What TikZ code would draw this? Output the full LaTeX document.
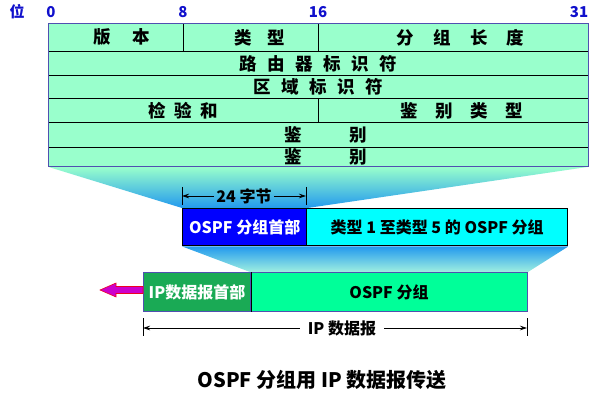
\documentclass[tikz,border=0pt]{standalone}
\usepackage{fontspec}
\setmainfont{Noto Sans CJK SC}
\usetikzlibrary{arrows.meta,backgrounds}
\definecolor{mint}{HTML}{99FFCC}
\definecolor{sky}{HTML}{2299EE}
\definecolor{rim}{HTML}{5050B0}
\definecolor{bitblue}{HTML}{1010CC}
\definecolor{ipgreen}{HTML}{1AAA55}
\definecolor{pktgreen}{HTML}{00FF99}
\definecolor{paleaqua}{HTML}{A0F0E0}
\definecolor{hdrblue}{HTML}{0000FF}
\definecolor{bodycyan}{HTML}{00FFFF}
\definecolor{arrowmag}{HTML}{CC00CC}
\definecolor{arrowred}{HTML}{EE0022}
\begin{document}
\begin{tikzpicture}[x=1pt,y=-1pt,font=\bfseries,
  cell/.style={draw=black,line width=0.8pt,fill=mint,inner sep=0pt,anchor=north west,
    font=\fontsize{17.5}{17.5}\selectfont\bfseries},
  bitlbl/.style={text=bitblue,font=\fontsize{15}{15}\selectfont\bfseries,inner sep=0pt},
  box/.style={line width=1.4pt,inner sep=0pt,anchor=north west,font=\fontsize{16}{16}\selectfont\bfseries},
  dimline/.style={line width=0.7pt,-{Stealth[length=7pt,width=4.5pt]}},
  tick/.style={line width=0.7pt}]
\useasboundingbox (0,0) rectangle (604,403);
\newcommand\mkcell[6]{\node[cell,minimum width=#4pt,minimum height=#5pt] (#1) at (#2,#3) {#6};}
% table
\mkcell{ver}{48}{23}{135}{28}{\hspace{12pt}版\hspace{1.2em}本}
\mkcell{typ}{183}{23}{135}{28}{\hspace{18pt}类\hspace{0.85em}型}
\mkcell{len}{318}{23}{270}{28}{\hspace{14pt}分\hspace{1.1em}组\hspace{1.1em}长\hspace{1.1em}度}
\mkcell{rid}{48}{51}{540}{24}{路\hspace{0.6em}由\hspace{0.6em}器\hspace{0.6em}标\hspace{0.6em}识\hspace{0.6em}符}
\mkcell{aid}{48}{75}{540}{23}{区\hspace{0.6em}域\hspace{0.6em}标\hspace{0.6em}识\hspace{0.6em}符}
\mkcell{chk}{48}{98}{270}{24}{检\hspace{0.5em}验\hspace{0.5em}和}
\mkcell{aut}{318}{98}{270}{24}{\hspace{16pt}鉴\hspace{1em}别\hspace{1em}类\hspace{1em}型}
\mkcell{au1}{48}{122}{540}{25}{\hspace{14pt}鉴\hspace{2.7em}别}
\mkcell{au2}{48}{147}{540}{19}{\hspace{14pt}鉴\hspace{2.7em}别}
\draw[rim,line width=0.9pt] (ver.north west) rectangle (au2.south east);
% bit labels
\node[bitlbl] (wei) at (17,12) {位};
\node[bitlbl] (b0) at (51,12) {0};
\node[bitlbl] (b8) at (183,12) {8};
\node[bitlbl] (b16) at (318,12) {16};
\node[bitlbl] (b31) at (579,12) {31};
% OSPF packet boxes
\node[box,draw=black,fill=hdrblue,text=white,minimum width=124pt,minimum height=37pt] (hdr) at (182,208) {OSPF 分组首部};
\node[box,draw=black,fill=bodycyan,minimum width=261pt,minimum height=37pt] (body) at (306,208) {类型 1 至类型 5 的 OSPF 分组};
% IP datagram boxes
\node[box,draw=rim,line width=1pt,fill=ipgreen,text=white,minimum width=107pt,minimum height=39pt] (iph) at (143,272) {IP数据报首部};
\node[box,draw=rim,line width=1pt,fill=pktgreen,minimum width=277pt,minimum height=39pt] (ipd) at (250,272) {OSPF 分组};
\draw[black,line width=0.8pt] (iph.north east) -- (iph.south east);
% shadings
\begin{scope}[on background layer]
\shade[top color=mint,bottom color=sky] (au2.south west) -- (au2.south east) -- (hdr.north east) -- (hdr.north west) -- cycle;
\shade[top color=sky,bottom color=paleaqua] (hdr.south west) -- (body.south east) -- (ipd.north east) -- (ipd.north west) -- cycle;
\end{scope}
% 24 bytes dimension
\coordinate (t1a) at (182,187); \coordinate (t1b) at (182,205);
\coordinate (t2a) at (306,187); \coordinate (t2b) at (306,205);
\draw[tick] (t1a) -- (t1b);
\draw[tick] (t2a) -- (t2b);
\node[font=\fontsize{16}{16}\selectfont\bfseries,inner sep=2pt] (b24) at (244,196) {24 字节};
\draw[dimline] (b24.west) -- (182,196);
\draw[dimline] (b24.east) -- (306,196);
% IP datagram dimension
\coordinate (t3a) at (143,318); \coordinate (t3b) at (143,336);
\coordinate (t4a) at (527,318); \coordinate (t4b) at (527,336);
\draw[tick] (t3a) -- (t3b);
\draw[tick] (t4a) -- (t4b);
\node[font=\fontsize{16}{16}\selectfont\bfseries,inner sep=8pt] (ipdg) at (342,328) {IP 数据报};
\draw[dimline] (ipdg.west) -- (143,328);
\draw[dimline] (ipdg.east) -- (527,328);
% outgoing arrow
\coordinate (tip) at (100,290);
\draw[arrowred,line width=0.6pt,fill=arrowmag]
  (iph.west |- 0,286.5) -- (116,286.5) -- (116,283) -- (tip) -- (116,297) -- (116,293.5) -- (iph.west |- 0,293.5) -- cycle;
% caption
\node[font=\fontsize{20}{20}\selectfont\bfseries] (cap) at (322,380) {OSPF 分组用 IP 数据报传送};
\end{tikzpicture}
\end{document}
